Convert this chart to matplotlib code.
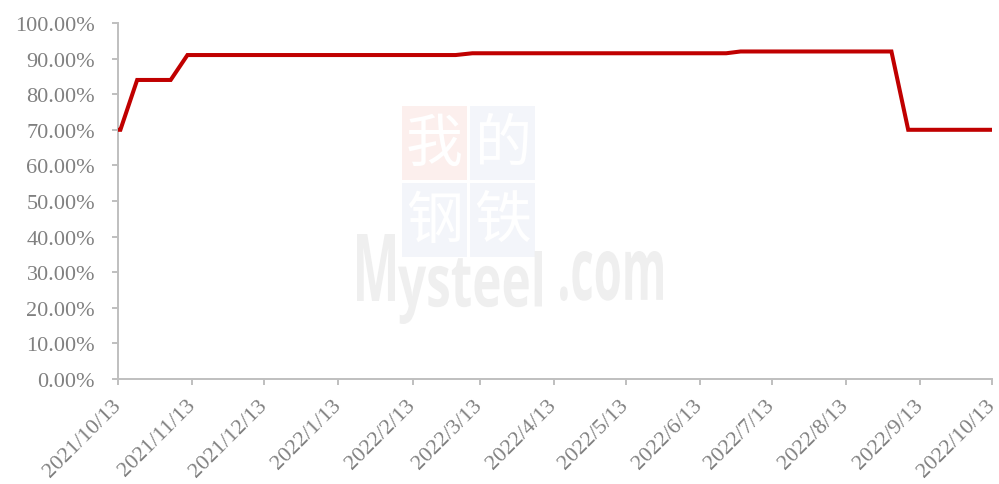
import matplotlib
matplotlib.use("Agg")
import matplotlib.pyplot as plt
import pandas as pd
from matplotlib.patches import Rectangle, PathPatch
from matplotlib.textpath import TextPath
from matplotlib.font_manager import FontProperties
from matplotlib.transforms import Affine2D, ScaledTranslation

dates = ["2021-10-13", "2021-10-14", "2021-10-21", "2021-11-04", "2021-11-11",
         "2022-03-03", "2022-03-10", "2022-06-24", "2022-06-30", "2022-09-01",
         "2022-09-08", "2022-10-13"]
values = [70.0, 70.0, 84.0, 84.0, 91.0, 91.0, 91.5, 91.5, 92.0, 92.0, 70.0, 70.0]
tick_dates = ["2021-10-13", "2021-11-13", "2021-12-13", "2022-01-13", "2022-02-13",
              "2022-03-13", "2022-04-13", "2022-05-13", "2022-06-13", "2022-07-13",
              "2022-08-13", "2022-09-13", "2022-10-13"]
tick_labels = ["2021/10/13", "2021/11/13", "2021/12/13", "2022/1/13", "2022/2/13",
               "2022/3/13", "2022/4/13", "2022/5/13", "2022/6/13", "2022/7/13",
               "2022/8/13", "2022/9/13", "2022/10/13"]
y_ticks = [0, 10, 20, 30, 40, 50, 60, 70, 80, 90, 100]

plt.rcParams['font.family'] = ['Liberation Serif', 'Noto Sans CJK SC', 'DejaVu Sans']

W, H = 999, 485
fig = plt.figure(figsize=(W / 100, H / 100), dpi=100)
ax = fig.add_axes([118 / W, 1 - 380 / H, (992 - 118) / W, (380 - 24) / H])
ax.set_zorder(2)
ax.patch.set_alpha(0)

pix = Affine2D().scale(1 / W, 1 / H) + fig.transFigure  # pixel coords, origin bottom-left

# ---- faint watermark (logo) ----
boxes = [(402, 107, "#fcefed", "我"), (470, 107, "#f3f5fa", "的"),
         (402, 184, "#f3f5fa", "钢"), (470, 184, "#f3f5fa", "铁")]
for bx, by, col, ch in boxes:
    fig.patches.append(Rectangle((bx, H - by - 74), 65, 74, transform=pix,
                                 facecolor=col, edgecolor="none", zorder=0))
    fig.text((bx + 32.5) / W, 1 - (by + 38) / H, ch, fontsize=41, color="white",
             ha="center", va="center", family=["Noto Sans CJK SC"], zorder=1)


def fit_text(s, x0, x1, ytop, ybot, family="Open Sans"):
    tp = TextPath((0, 0), s, size=100, prop=FontProperties(family=family, weight="bold"))
    ext = tp.get_extents()
    sx = (x1 - x0) / ext.width
    sy = (ybot - ytop) / ext.height
    tr = Affine2D().translate(-ext.x0, -ext.y0).scale(sx, sy).translate(x0, H - ybot) + pix
    fig.patches.append(PathPatch(tp, transform=tr, facecolor="#efefef",
                                 edgecolor="none", zorder=0))


fit_text("M", 357, 395, 235, 302)
fit_text("ysteel", 398, 542, 252, 325)
fit_text(".com", 560, 663, 252, 302)

# ---- data ----
x = pd.to_datetime(dates)
ax.plot(x, values, color="#C00000", lw=2.9, solid_joinstyle="miter", zorder=3)

ax.set_ylim(0, 100)
ax.set_xlim(pd.Timestamp(tick_dates[0]), pd.Timestamp(tick_dates[-1]))
ax.set_yticks(y_ticks)
ax.set_yticklabels([f"{v:.2f}%" for v in y_ticks])
ax.set_xticks(pd.to_datetime(tick_dates))
ax.set_xticklabels(tick_labels, rotation=45, ha="right", va="center", rotation_mode="anchor")
off = ScaledTranslation(-5 / 100, -8 / 100, fig.dpi_scale_trans)
for lab in ax.get_xticklabels():
    lab.set_transform(lab.get_transform() + off)

for s in ["top", "right"]:
    ax.spines[s].set_visible(False)
for s in ["left", "bottom"]:
    ax.spines[s].set_color("#bfbfbf")
    ax.spines[s].set_linewidth(1.4)
ax.tick_params(axis="both", colors="#bfbfbf", length=4.5, width=1.4, direction="out",
               labelcolor="#808080", labelsize=16)
ax.tick_params(axis="x", pad=12)
ax.tick_params(axis="y", pad=12)

fig.savefig("out.png", dpi=100)
